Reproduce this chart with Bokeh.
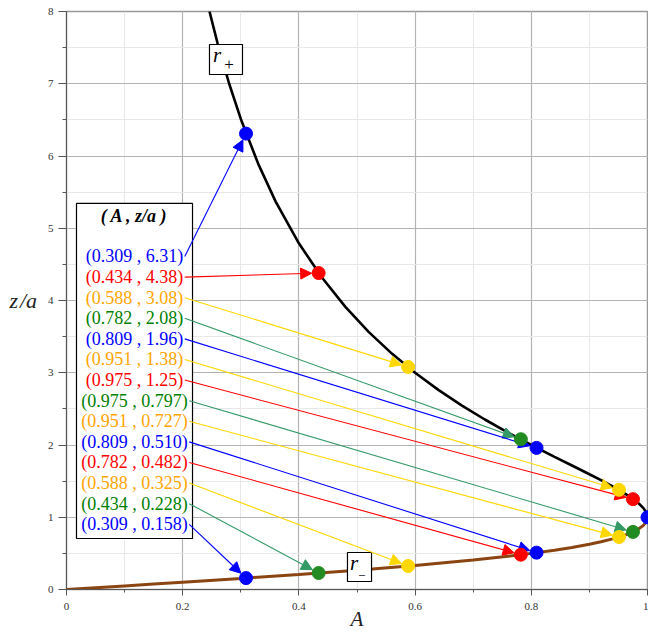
import math
from bokeh.plotting import figure
from bokeh.models import Range1d, SingleIntervalTicker, Arrow, NormalHead, ColumnDataSource
from bokeh.embed import file_html
from bokeh.resources import INLINE
from bokeh.core.properties import value

# ---- data ----
# upper branch r+
rp_A = [0.246, 0.26, 0.28, 0.30, 0.33, 0.36, 0.40, 0.44, 0.48, 0.52, 0.56, 0.60, 0.64, 0.68,
        0.72, 0.76, 0.80, 0.84, 0.87, 0.90, 0.92, 0.94, 0.96, 0.975, 0.985, 0.993, 0.998, 1.0]
rp_z = [8.005, 7.560, 7.000, 6.513, 5.891, 5.369, 4.791, 4.314, 3.911, 3.566, 3.265, 3.000, 2.763, 2.549,
        2.353, 2.171, 2.000, 1.836, 1.716, 1.595, 1.513, 1.427, 1.333, 1.2535, 1.190, 1.126, 1.065, 1.0]
# lower branch r-
rm_A = [0.0, 0.05, 0.10, 0.15, 0.20, 0.30, 0.40, 0.50, 0.60, 0.70, 0.76, 0.80, 0.84, 0.87, 0.90,
        0.92, 0.94, 0.96, 0.975, 0.985, 0.993, 0.998, 1.0]
rm_z = [0.0, 0.0250, 0.0501, 0.0754, 0.1010, 0.1535, 0.2087, 0.2680, 0.3333, 0.4084, 0.4606, 0.5, 0.5445,
        0.5827, 0.6268, 0.6610, 0.7009, 0.75, 0.7977, 0.8401, 0.8881, 0.9387, 1.0]

# labelled points (top to bottom in the label box)
lab_A = [0.309, 0.434, 0.588, 0.782, 0.809, 0.951, 0.975, 0.975, 0.951, 0.809, 0.782, 0.588, 0.434, 0.309]
lab_z = [6.31, 4.38, 3.08, 2.08, 1.96, 1.38, 1.25, 0.797, 0.727, 0.510, 0.482, 0.325, 0.228, 0.158]
lab_kind = ["blue", "red", "orange", "green", "blue", "orange", "red",
            "green", "orange", "blue", "red", "orange", "green", "blue"]
# the meeting point of the two branches
extra_A = [1.0]
extra_z = [1.0]
extra_kind = ["blue"]

x_ticks = [0, 0.2, 0.4, 0.6, 0.8, 1]
y_ticks = [0, 1, 2, 3, 4, 5, 6, 7, 8]

TEXT_COL = {"blue": "#0000FF", "red": "#FF0000", "orange": "#FFA500", "green": "#008000"}
ARROW_COL = {"blue": "#0000FF", "red": "#FF0000", "orange": "#FFD700", "green": "#339966"}
DOT_COL = {"blue": "#0000FF", "red": "#FF0000", "orange": "#FFD700", "green": "#228B22"}

SERIF = "Liberation Serif"
W, H = 648, 633
BL, BR, BT, BB = 66, 1, 11, 44
FW = W - BL - BR          # frame width px
FH = H - BT - BB          # frame height px
SX = FW / 1.0             # px per unit A
SY = FH / 8.0             # px per unit z

p = figure(width=W, height=H, output_backend="svg", toolbar_location=None,
           x_range=Range1d(0, 1), y_range=Range1d(0, 8),
           min_border_left=BL, min_border_right=BR, min_border_top=BT, min_border_bottom=BB)
p.background_fill_color = "white"
p.border_fill_color = "white"
p.outline_line_color = "#999999"
p.outline_line_width = 1.5

p.xaxis.ticker = SingleIntervalTicker(interval=0.2, num_minor_ticks=2)
p.yaxis.ticker = SingleIntervalTicker(interval=1, num_minor_ticks=2)
p.xaxis.major_label_overrides = {t: ("1" if t == 1 else ("0" if t == 0 else str(t))) for t in x_ticks}
for ax in (p.xaxis[0], p.yaxis[0]):
    ax.axis_line_color = "#555555"
    ax.major_tick_line_color = "#555555"
    ax.minor_tick_line_color = "#555555"
    ax.major_tick_in = 0
    ax.minor_tick_in = 0
    ax.major_label_text_font = SERIF
    ax.major_label_text_font_size = "11px"
    ax.major_label_text_color = "#333333"
    ax.axis_label_text_font = SERIF
    ax.axis_label_text_font_style = "italic"
    ax.axis_label_text_color = "#222222"
p.xaxis.major_tick_out = 6
p.xaxis.minor_tick_out = 3
p.yaxis.major_tick_out = 8
p.yaxis.minor_tick_out = 4
p.xaxis.major_label_standoff = 7
p.yaxis.major_label_standoff = 5
p.xaxis.axis_label = "A"
p.xaxis.axis_label_text_font_size = "21px"
p.xaxis.axis_label_standoff = -6
p.yaxis.axis_label = "z\u200a/a"
p.yaxis.axis_label_text_font_size = "22px"
p.yaxis.axis_label_standoff = 8
try:
    p.yaxis.axis_label_orientation = "horizontal"
except Exception:
    pass

p.xgrid.grid_line_color = "#b4b4b4"
p.ygrid.grid_line_color = "#b4b4b4"
p.xgrid.minor_grid_line_color = "#e8e8e8"
p.ygrid.minor_grid_line_color = "#e8e8e8"
p.xgrid.grid_line_width = 1.2
p.ygrid.grid_line_width = 1.2

# curves
p.line(rp_A, rp_z, line_color="black", line_width=2.6)
p.line(rm_A, rm_z, line_color="#8B4513", line_width=3)

# label box
box_l, box_r, box_t, box_b = 0.0172, 0.2169, 5.343, 0.706
p.quad(left=[box_l], right=[box_r], top=[box_t], bottom=[box_b],
       fill_color="white", line_color="black", line_width=1.2)
p.text(x=[(box_l + box_r) / 2], y=[5.176], text=["( A , z/a )"], text_font=value(SERIF),
       text_font_size="18px", text_font_style="bold italic", text_color="black",
       text_align="center", text_baseline="middle")

# r+ / r- boxes
p.quad(left=[0.2461], right=[0.3029], top=[7.543], bottom=[7.128],
       fill_color="white", line_color="black", line_width=1.2)
p.text(x=[0.259], y=[7.40], text=["r"], text_font=value(SERIF), text_font_size="21px",
       text_font_style="italic", text_align="center", text_baseline="middle", text_color="black")
p.text(x=[0.2797], y=[7.273], text=["+"], text_font=value(SERIF), text_font_size="17px",
       text_align="center", text_baseline="middle", text_color="black")
p.quad(left=[0.4836], right=[0.5250], top=[0.512], bottom=[0.111],
       fill_color="white", line_color="black", line_width=1.2)
p.text(x=[0.4948], y=[0.37], text=["r"], text_font=value(SERIF), text_font_size="21px",
       text_font_style="italic", text_align="center", text_baseline="middle", text_color="black")
p.text(x=[0.5086], y=[0.221], text=["\u2013"], text_font=value(SERIF), text_font_size="12px",
       text_align="center", text_baseline="middle", text_color="black")

# label texts
CW = {"(": 0.333, ")": 0.333, ".": 0.25, ",": 0.25, " ": 0.25}
FS = 18.0
lab_x = (box_l + box_r) / 2
lab_y0, lab_dy = 4.609, 0.2851
texts = [f"({a:#.3g} , {z:#.3g})" for a, z in zip(lab_A, lab_z)]
ys = [lab_y0 - i * lab_dy for i in range(len(texts))]
p.text(x=[lab_x] * len(texts), y=ys, text=texts, text_font=value(SERIF), text_font_size="18px",
       text_color=[TEXT_COL[k] for k in lab_kind], text_align="center", text_baseline="middle")

# arrows
R = 7.0
for t, y0, a, z, k in zip(texts, ys, lab_A, lab_z, lab_kind):
    wpx = sum(CW.get(ch, 0.5) for ch in t) * FS
    x0 = lab_x + (wpx / 2 + 1.5) / SX
    dxp = (a - x0) * SX
    dyp = (z - y0) * SY
    L = math.hypot(dxp, dyp)
    xe = a - dxp / L * R / SX
    ye = z - dyp / L * R / SY
    c = ARROW_COL[k]
    p.add_layout(Arrow(end=NormalHead(size=11, fill_color=c, line_color=c, line_width=1),
                       x_start=x0, y_start=y0, x_end=xe, y_end=ye,
                       line_color=c, line_width=1.1))

# dots
dots = ColumnDataSource(dict(x=lab_A + extra_A, y=lab_z + extra_z,
                             c=[DOT_COL[k] for k in lab_kind + extra_kind]))
p.scatter("x", "y", source=dots, size=13, fill_color="c", line_color="c", level="overlay")

open("out.html", "w").write(file_html(p, INLINE))
